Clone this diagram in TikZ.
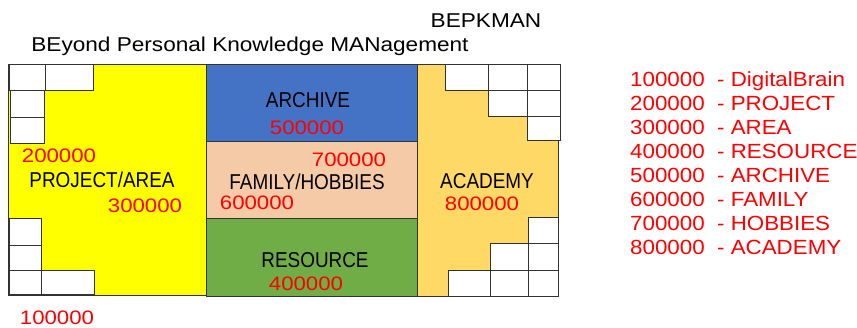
\documentclass[tikz,border=0pt]{standalone}
\usepackage{fontspec}
\setmainfont{Liberation Sans}
\newfontfamily\boxfam[FakeStretch=0.88]{Liberation Sans}
\newfontfamily\numfam[FakeStretch=1.14]{Liberation Sans}
\newfontfamily\legfam[FakeStretch=1.09]{Liberation Sans}
\newfontfamily\titfam[FakeStretch=1.13]{Liberation Sans}
\definecolor{yel}{HTML}{FFFF00}
\definecolor{org}{HTML}{FFD966}
\definecolor{blu}{HTML}{4472C4}
\definecolor{pch}{HTML}{F5CBA7}
\definecolor{grn}{HTML}{70AD47}
\definecolor{red}{HTML}{FF0000}
\definecolor{edge}{HTML}{333333}
\begin{document}
\begin{tikzpicture}[x=1pt,y=-1pt,
  region/.style={draw=edge,line width=0.9pt},
  cell/.style={draw=edge,line width=0.9pt,fill=white},
  lbl/.style={anchor=base,inner sep=0pt,font=\boxfam\fontsize{21.5}{24}\selectfont},
  num/.style={anchor=base,inner sep=0pt,text=red,font=\numfam\fontsize{19.5}{22}\selectfont},
  leg/.style={anchor=base west,inner sep=0pt,text=red,font=\legfam\fontsize{20.5}{24}\selectfont},
  tit/.style={anchor=base,inner sep=0pt,font=\titfam\fontsize{20}{24}\selectfont}]
\useasboundingbox (0,0) rectangle (857,328);
% regions
\draw[region,fill=yel] (8,64) rectangle (206,295);
\draw[region,fill=blu] (206,64) rectangle (417,141);
\draw[region,fill=pch] (206,141) rectangle (417,218);
\draw[region,fill=grn] (206,218) rectangle (417,296);
\draw[region,fill=org] (417,64) rectangle (558,296);
% left cells
\draw[cell] (9,64) rectangle (45,90);
\draw[cell] (45,64) rectangle (93,90);
\draw[cell] (10,90) rectangle (44,117);
\draw[cell] (10,117) rectangle (44,143);
\draw[cell] (9,218) rectangle (41,245);
\draw[cell] (9,245) rectangle (41,270);
\draw[cell] (9,270) rectangle (41,294);
\draw[cell] (41,270) rectangle (94,294);
% right cells
\draw[cell] (445,64) rectangle (488,90);
\draw[cell] (488,64) rectangle (527,90);
\draw[cell] (527,64) rectangle (560,90);
\draw[cell] (488,90) rectangle (527,116);
\draw[cell] (527,90) rectangle (560,116);
\draw[cell] (527,116) rectangle (560,140);
\draw[cell] (528,217) rectangle (558,243);
\draw[cell] (490,243) rectangle (528,270);
\draw[cell] (528,243) rectangle (558,270);
\draw[cell] (448,270) rectangle (490,296);
\draw[cell] (490,270) rectangle (528,296);
\draw[cell] (528,270) rectangle (558,296);
% titles
\node[tit] (t1) at (486,28) {BEPKMAN};
\node[tit] (t2) at (250,52) {BEyond Personal Knowledge MANagement};
% region labels
\node[lbl] (arch) at (308,108) {ARCHIVE};
\node[num] (n5) at (307,135) {500000};
\node[num] (n7) at (349,167) {700000};
\node[lbl] (fam) at (307,190) {FAMILY/HOBBIES};
\node[num] (n6) at (257,210) {600000};
\node[lbl] (res) at (315,268) {RESOURCE};
\node[num] (n4) at (306,291) {400000};
\node[num] (n2) at (59,163) {200000};
\node[lbl] (proj) at (102,188) {PROJECT/AREA};
\node[num] (n3) at (145,213) {300000};
\node[num] (n1) at (57,325) {100000};
\node[lbl] (acad) at (487,189) {ACADEMY};
\node[num] (n8) at (482,211) {800000};
% legend
\node[leg] (l1) at (630,87) {100000\ \ - DigitalBrain};
\node[leg] (l2) at (630,111) {200000\ \ - PROJECT};
\node[leg] (l3) at (630,135) {300000\ \ - AREA};
\node[leg] (l4) at (630,159) {400000\ \ - RESOURCE};
\node[leg] (l5) at (630,183) {500000\ \ - ARCHIVE};
\node[leg] (l6) at (630,207) {600000\ \ - FAMILY};
\node[leg] (l7) at (630,231) {700000\ \ - HOBBIES};
\node[leg] (l8) at (630,255) {800000\ \ - ACADEMY};
\end{tikzpicture}
\end{document}
